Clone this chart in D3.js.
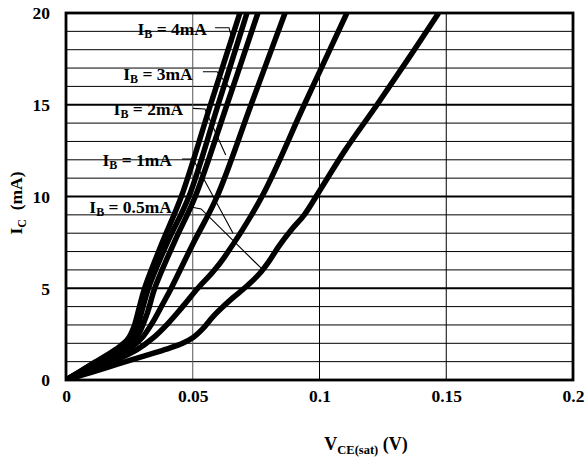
<!DOCTYPE html>
<html><head><meta charset="utf-8">
<script src="https://cdn.jsdelivr.net/npm/d3@7/dist/d3.min.js"></script>
<style>
body{margin:0;background:#fff;}
svg{display:block;font-family:"Liberation Serif","Times New Roman",serif;font-weight:bold;}
</style></head><body>
<svg id="c" width="585" height="460"></svg>
<script>
// ---- data (V_CE(sat) in V, I_C in mA) ----
const xTickValues = [0, 0.05, 0.1, 0.15, 0.2];
const xTickLabels = ["0", "0.05", "0.1", "0.15", "0.2"];
const yTickValues = [0, 5, 10, 15, 20];
const yTickLabels = ["0", "5", "10", "15", "20"];
const yMinorValues = [1,2,3,4,6,7,8,9,11,12,13,14,16,17,18,19];

const curveIB4 = [[0,0],[0.01,0.85],[0.02,1.7],[0.0245,2.25],[0.0268,2.9],[0.0288,3.9],[0.031,5.0],[0.038,7.5],[0.0455,10],[0.057,15],[0.0686,20]];
const curveIB3 = [[0,0],[0.01,0.82],[0.02,1.62],[0.025,2.15],[0.0278,2.8],[0.0302,3.9],[0.0325,5.0],[0.04,7.5],[0.0485,10],[0.060,15],[0.0714,20]];
const curveIB3b = [[0,0],[0.01,0.78],[0.02,1.52],[0.026,2.05],[0.029,2.6],[0.0322,3.7],[0.035,5.0],[0.043,7.6],[0.051,10],[0.0635,15],[0.0757,20]];
const curveIB2 = [[0,0],[0.01,0.65],[0.02,1.3],[0.026,1.8],[0.03,2.3],[0.034,3.1],[0.038,4.1],[0.0415,5.0],[0.05,7.4],[0.0596,10],[0.0730,15],[0.0864,20]];
const curveIB1 = [[0,0],[0.01,0.55],[0.02,1.1],[0.028,1.65],[0.034,2.25],[0.04,3.05],[0.046,4.0],[0.052,5.0],[0.058,5.9],[0.0625,6.7],[0.0773,10],[0.0940,15],[0.1108,20]];
const curveIB05 = [[0,0],[0.01,0.42],[0.02,0.85],[0.03,1.28],[0.04,1.7],[0.046,2.0],[0.05,2.3],[0.054,2.8],[0.058,3.45],[0.062,4.0],[0.066,4.5],[0.072,5.2],[0.077,5.9],[0.08,6.45],[0.084,7.3],[0.089,8.2],[0.094,9.0],[0.1,10.3],[0.11,12.5],[0.1227,15],[0.135,17.5],[0.147,20]];
const curves = [curveIB4, curveIB3, curveIB3b, curveIB2, curveIB1, curveIB05];

const labelValues = ["4mA", "3mA", "2mA", "1mA", "0.5mA"];
// label anchor (right end, baseline) and leader polyline, in data units
const labelAnchors = [[0.0556,18.8],[0.05,16.35],[0.0462,14.45],[0.0418,11.66],[0.0418,9.1]];
const leaders = [
  [[0.0588,19.2],[0.0643,19.2],[0.0659,18.4]],
  [[0.054,16.8],[0.0596,16.8],[0.0647,15.9]],
  [[0.0501,14.8],[0.0548,14.77],[0.063,12.26]],
  [[0.0458,12.04],[0.0501,12.04],[0.0659,8.0]],
  [[0.0493,9.43],[0.0533,9.32],[0.0773,6.05]]
];

// ---- layout ----
const svg = d3.select("#c");
const L = 66, R = 573, T = 13, B = 380;
const x = d3.scaleLinear().domain([0, 0.2]).range([L, R]);
const y = d3.scaleLinear().domain([0, 20]).range([B, T]);

// grid
svg.append("g").selectAll("line").data(yMinorValues).join("line")
  .attr("x1", L).attr("x2", R).attr("y1", d => y(d)).attr("y2", d => y(d))
  .attr("stroke", "#000").attr("stroke-width", 1);
svg.append("g").selectAll("line").data([5,10,15]).join("line")
  .attr("x1", L).attr("x2", R).attr("y1", d => y(d)).attr("y2", d => y(d))
  .attr("stroke", "#000").attr("stroke-width", 2.2);
svg.append("g").selectAll("line").data([0.05,0.1,0.15]).join("line")
  .attr("x1", d => x(d)).attr("x2", d => x(d)).attr("y1", T).attr("y2", B)
  .attr("stroke", d => d === 0.05 ? "#555" : "#000").attr("stroke-width", 1);

// curves
svg.append("clipPath").attr("id", "clip").append("rect")
  .attr("x", L).attr("y", T).attr("width", R - L).attr("height", B - T);
const line = d3.line().x(d => x(d[0])).y(d => y(d[1])).curve(d3.curveCatmullRom.alpha(0.5));
svg.append("g").attr("clip-path", "url(#clip)").selectAll("path").data(curves).join("path")
  .attr("d", line).attr("fill", "none").attr("stroke", "#000").attr("stroke-width", 5.5)
  .attr("stroke-linejoin", "round");

// leaders
const lline = d3.line().x(d => x(d[0])).y(d => y(d[1]));
svg.append("g").selectAll("path").data(leaders).join("path")
  .attr("d", lline).attr("fill", "none").attr("stroke", "#000").attr("stroke-width", 1.1);

// labels
const lab = svg.append("g").selectAll("text").data(labelValues).join("text")
  .attr("x", (d, i) => x(labelAnchors[i][0])).attr("y", (d, i) => y(labelAnchors[i][1]))
  .attr("text-anchor", "end").attr("font-size", 17.5);
lab.append("tspan").text("I");
lab.append("tspan").attr("font-size", 12).attr("dy", 3).text("B");
lab.append("tspan").attr("dy", -3).text(d => " = " + d);

// frame
svg.append("rect").attr("x", L).attr("y", T).attr("width", R - L).attr("height", B - T)
  .attr("fill", "none").attr("stroke", "#000").attr("stroke-width", 2.8);

// axes (labels only)
const xAxis = d3.axisBottom(x).tickValues(xTickValues).tickSize(0).tickPadding(0)
  .tickFormat((d, i) => xTickLabels[i]);
const gx = svg.append("g").attr("transform", `translate(0,${B})`).call(xAxis);
gx.select(".domain").remove();
gx.selectAll("text").attr("font-size", 17.5).attr("font-family", "Liberation Serif, serif")
  .attr("font-weight", "bold").attr("fill", "#000").attr("y", 22).attr("dy", 0);

const yAxis = d3.axisLeft(y).tickValues(yTickValues).tickSize(0).tickPadding(0)
  .tickFormat((d, i) => yTickLabels[i]);
const gy = svg.append("g").attr("transform", `translate(${L},0)`).call(yAxis);
gy.select(".domain").remove();
gy.selectAll("text").attr("font-size", 17.5).attr("font-family", "Liberation Serif, serif")
  .attr("font-weight", "bold").attr("fill", "#000").attr("x", -16).attr("dy", "0.34em");

// axis titles
const xt = svg.append("text").attr("x", 366).attr("y", 450).attr("text-anchor", "middle")
  .attr("font-size", 18);
xt.append("tspan").text("V");
xt.append("tspan").attr("font-size", 12.5).attr("dy", 4).text("CE(sat)");
xt.append("tspan").attr("dy", -4).text(" (V)");

const yt = svg.append("text").attr("transform", "translate(22,203) rotate(-90)")
  .attr("text-anchor", "middle").attr("font-size", 17.5);
yt.append("tspan").text("I");
yt.append("tspan").attr("font-size", 12).attr("dy", 4).text("C");
yt.append("tspan").attr("dy", -4).text("\u00a0 (mA)");
</script>
</body></html>
